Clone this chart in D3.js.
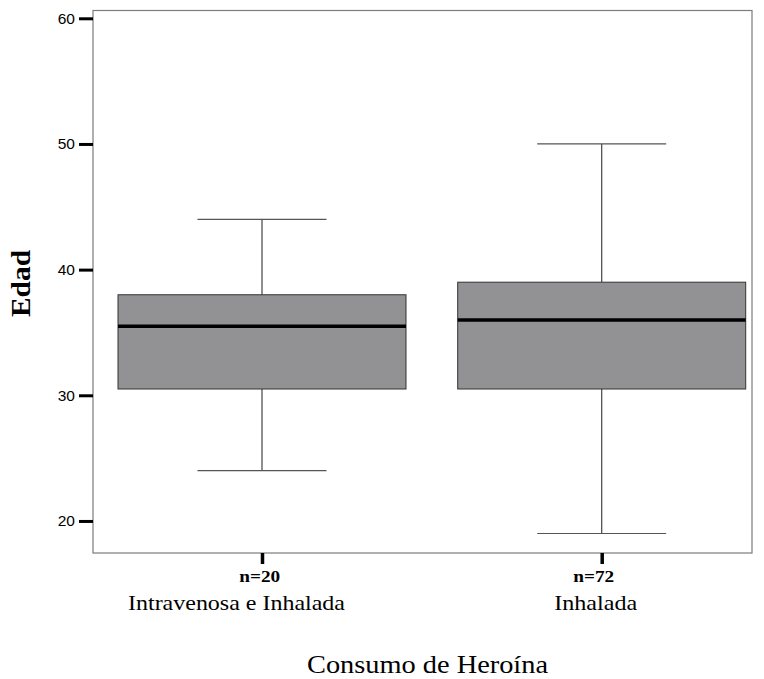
<!DOCTYPE html>
<html>
<head>
<meta charset="utf-8">
<script src="https://cdn.jsdelivr.net/npm/d3@7"></script>
<style>
  body { margin: 0; background: #fff; }
  svg { display: block; }
  .serif { font-family: "Liberation Serif", "Times New Roman", serif; }
  .sans { font-family: "Liberation Sans", Arial, sans-serif; }
</style>
</head>
<body>
<svg id="chart"></svg>
<script>
// data
const categories = ["Intravenosa e Inhalada", "Inhalada"];
const counts = [20, 72];
const whiskerLow = [24, 19];
const q1 = [30.5, 30.5];
const medians = [35.5, 36];
const q3 = [38, 39];
const whiskerHigh = [44, 50];
const yTicks = [20, 30, 40, 50, 60];

const width = 764, height = 679;
const plot = { left: 93, right: 752, top: 10.5, bottom: 553 };

const svg = d3.select("#chart")
  .attr("width", width)
  .attr("height", height);

const y = d3.scaleLinear()
  .domain([17.45, 60.62])
  .range([plot.bottom, plot.top]);

// centres are not symmetric in the frame
const x = d3.scalePoint()
  .domain(categories)
  .range([262, 601.7]);

const boxWidth = 288;
const capWidth = 129;
// the original text looks a bit stretched sideways and off-centre
const catShift = [-25.5, -6], catLen = [217, 83];
const nShift = [-2.3, -8], nLen = [41, 41];

const boxes = categories.map((c, i) => ({
  cat: c, i, n: counts[i], lo: whiskerLow[i], q1: q1[i],
  med: medians[i], q3: q3[i], hi: whiskerHigh[i]
}));

const g = svg.append("g");

boxes.forEach(b => {
  const cx = x(b.cat);
  // whiskers
  g.append("line")
    .attr("x1", cx).attr("x2", cx)
    .attr("y1", y(b.hi)).attr("y2", y(b.q3))
    .attr("stroke", "#444").attr("stroke-width", 1.2);
  g.append("line")
    .attr("x1", cx).attr("x2", cx)
    .attr("y1", y(b.q1)).attr("y2", y(b.lo))
    .attr("stroke", "#444").attr("stroke-width", 1.2);
  [b.hi, b.lo].forEach(v => {
    g.append("line")
      .attr("x1", cx - capWidth / 2).attr("x2", cx + capWidth / 2)
      .attr("y1", y(v)).attr("y2", y(v))
      .attr("stroke", "#555").attr("stroke-width", 1.2);
  });
  // box
  g.append("rect")
    .attr("x", cx - boxWidth / 2)
    .attr("y", y(b.q3))
    .attr("width", boxWidth)
    .attr("height", y(b.q1) - y(b.q3))
    .attr("fill", "#929294")
    .attr("stroke", "#333")
    .attr("stroke-width", 1);
  // median
  g.append("line")
    .attr("x1", cx - boxWidth / 2).attr("x2", cx + boxWidth / 2)
    .attr("y1", y(b.med)).attr("y2", y(b.med))
    .attr("stroke", "#000").attr("stroke-width", 3.5);
});

// frame
svg.append("rect")
  .attr("x", plot.left).attr("y", plot.top)
  .attr("width", plot.right - plot.left)
  .attr("height", plot.bottom - plot.top)
  .attr("fill", "none")
  .attr("stroke", "#7a7d7d")
  .attr("stroke-width", 1.2);

// y axis
const yAxis = svg.append("g")
  .attr("transform", `translate(${plot.left},0)`)
  .call(d3.axisLeft(y).tickValues(yTicks).tickSize(14).tickPadding(4).tickFormat(d3.format("d")));
yAxis.attr("font-family", null).attr("font-size", null);
yAxis.select(".domain").remove();
yAxis.selectAll(".tick line").attr("stroke", "#000").attr("stroke-width", 3);
yAxis.selectAll(".tick text")
  .attr("class", "sans")
  .style("font-size", "15.5px")
  .attr("fill", "#000");

// x axis
const xAxis = svg.append("g")
  .attr("transform", `translate(0,${plot.bottom})`)
  .call(d3.axisBottom(x).tickSize(11).tickFormat(""));
xAxis.select(".domain").remove();
xAxis.selectAll(".tick line").attr("stroke", "#000").attr("stroke-width", 3.5);

boxes.forEach(b => {
  svg.append("text")
    .attr("class", "serif")
    .attr("x", x(b.cat) + nShift[b.i]).attr("y", 581.5)
    .attr("text-anchor", "middle")
    .attr("textLength", nLen[b.i])
    .attr("lengthAdjust", "spacingAndGlyphs")
    .style("font-weight", "bold")
    .style("font-size", "16.5px")
    .text(`n=${b.n}`);
  svg.append("text")
    .attr("class", "serif")
    .attr("x", x(b.cat) + catShift[b.i]).attr("y", 610)
    .attr("text-anchor", "middle")
    .attr("textLength", catLen[b.i])
    .attr("lengthAdjust", "spacingAndGlyphs")
    .style("font-size", "21px")
    .text(b.cat);
});

svg.append("text")
  .attr("class", "serif")
  .attr("x", 427.5).attr("y", 673)
  .attr("text-anchor", "middle")
  .attr("textLength", 241)
  .attr("lengthAdjust", "spacingAndGlyphs")
  .style("font-size", "26px")
  .text("Consumo de Heroína");

svg.append("text")
  .attr("class", "serif")
  .attr("transform", "translate(30,283.5) rotate(-90)")
  .attr("text-anchor", "middle")
  .attr("textLength", 67)
  .attr("lengthAdjust", "spacingAndGlyphs")
  .style("font-weight", "bold")
  .style("font-size", "27px")
  .text("Edad");
</script>
</body>
</html>
